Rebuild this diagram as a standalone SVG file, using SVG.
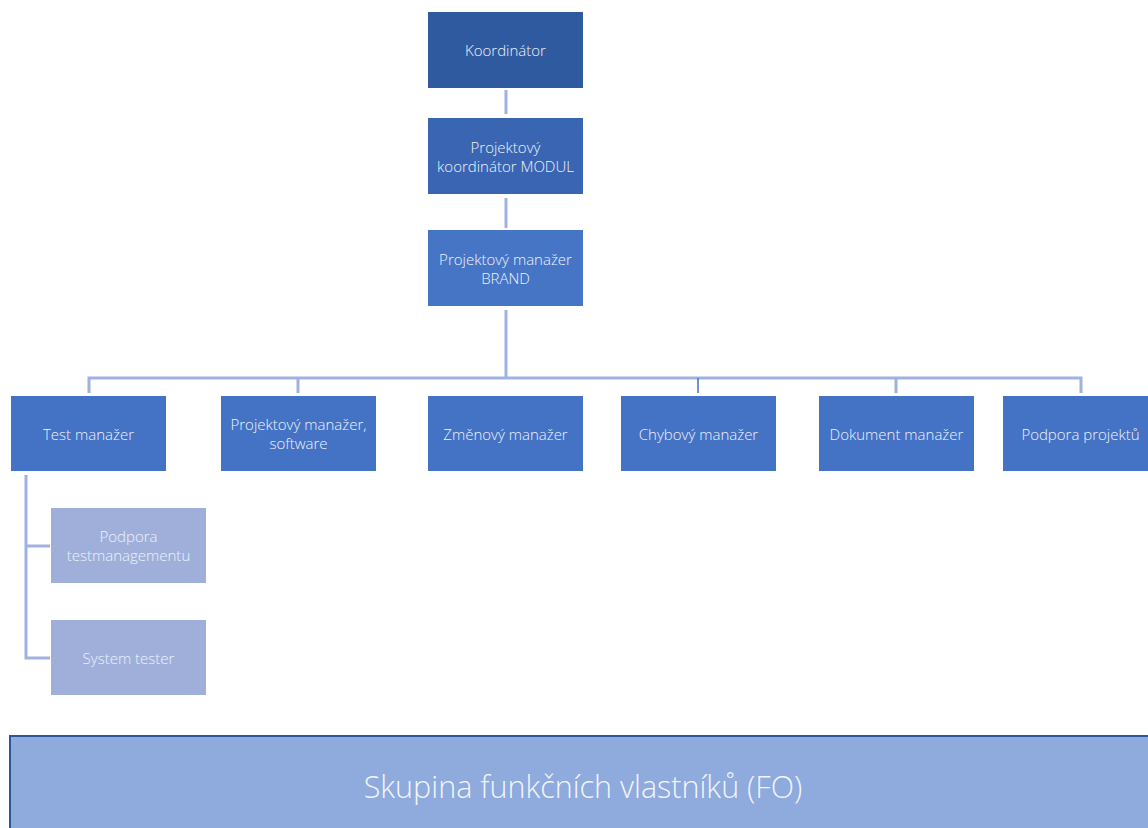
<svg xmlns="http://www.w3.org/2000/svg" width="1148" height="828" viewBox="0 0 1148 828">
<style>
.t{font-family:"Open Sans","Noto Sans",sans-serif;font-size:15px;fill:#eef2fa;text-anchor:middle;font-weight:300}
.c{stroke:#9fb1de;stroke-width:3;fill:none}
.b{fill:#4472c4}
.s{fill:#9fafda}
</style>
<rect width="1148" height="828" fill="#fff"/>
<g id="connectors">
<path class="c" d="M506 90V114M506 198V228M506 310V378M89 393V378H1081V393M298 378V393M896 378V393"/>
<path d="M698 378V393" stroke="#4472c4" stroke-width="1.5"/>
<path class="c" d="M26 475V658H50M26 546H50"/>
</g>
<g id="koordinator"><rect x="428" y="12" width="155" height="76" fill="#305a9f"/><text class="t" x="505.5" y="56">Koordinátor</text></g>
<g id="projektovy-koordinator"><rect x="428" y="118" width="155" height="76" fill="#3a65b3"/><text class="t" x="505.5" y="153">Projektový</text><text class="t" x="505.5" y="172">koordinátor MODUL</text></g>
<g id="pm-brand"><rect x="428" y="230" width="155" height="76" fill="#4675c6"/><text class="t" x="505.5" y="265">Projektový manažer</text><text class="t" x="505.5" y="284">BRAND</text></g>
<g id="test-manazer"><rect class="b" x="11" y="396" width="155" height="75"/><text class="t" x="88.5" y="440">Test manažer</text></g>
<g id="pm-software"><rect class="b" x="221" y="396" width="155" height="75"/><text class="t" x="298.5" y="430">Projektový manažer,</text><text class="t" x="298.5" y="449">software</text></g>
<g id="zmenovy"><rect class="b" x="428" y="396" width="155" height="75"/><text class="t" x="505.5" y="440">Změnový manažer</text></g>
<g id="chybovy"><rect class="b" x="621" y="396" width="155" height="75"/><text class="t" x="698.5" y="440">Chybový manažer</text></g>
<g id="dokument"><rect class="b" x="819" y="396" width="155" height="75"/><text class="t" x="896.5" y="440">Dokument manažer</text></g>
<g id="podpora-projektu"><rect class="b" x="1003" y="396" width="155" height="75"/><text class="t" x="1080.5" y="440">Podpora projektů</text></g>
<g id="podpora-tm"><rect class="s" x="51" y="508" width="155" height="75"/><text class="t" x="128.5" y="542">Podpora</text><text class="t" x="128.5" y="561">testmanagementu</text></g>
<g id="system-tester"><rect class="s" x="51" y="620" width="155" height="75"/><text class="t" x="128.5" y="664">System tester</text></g>
<g id="skupina"><rect x="10" y="736" width="1150" height="100" fill="#8faadc" stroke="#2f5597" stroke-width="2"/><text x="583" y="798" style="font-family:'Open Sans','Noto Sans',sans-serif;font-size:30.5px;fill:#f2f5fb;text-anchor:middle;font-weight:300">Skupina funkčních vlastníků (FO)</text></g>
</svg>
